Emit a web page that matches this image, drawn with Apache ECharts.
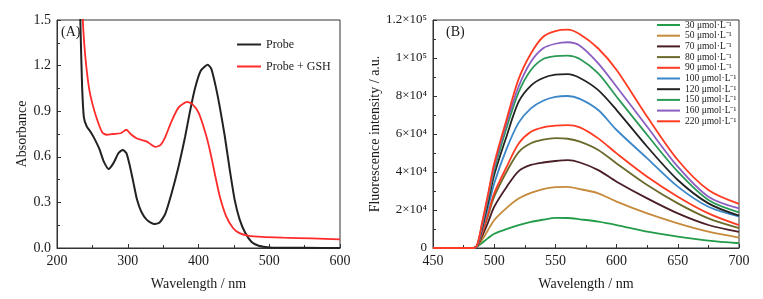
<!DOCTYPE html>
<html>
<head>
<meta charset="utf-8">
<script src="https://cdn.jsdelivr.net/npm/echarts@6/dist/echarts.min.js"></script>
<style>
  html, body { margin: 0; padding: 0; background: #fff; }
  #chart { width: 763px; height: 299px; }
</style>
</head>
<body>
<div id="chart"></div>
<script>
// (A) absorbance, [wavelength nm, absorbance]
const probe = [
  [232, 1.7], [233.5, 1.4], [235.5, 1.06], [238, 0.86], [242, 0.8], [248, 0.76], [254, 0.71],
  [260, 0.65], [266, 0.57], [273, 0.52], [280, 0.56], [287, 0.625], [293, 0.645], [298, 0.625],
  [303, 0.54], [308, 0.43], [313, 0.32], [319, 0.24], [327, 0.185], [337, 0.158], [345, 0.168],
  [353, 0.225], [362, 0.36], [372, 0.54], [381, 0.73], [388, 0.9], [395, 1.05], [403, 1.165],
  [413, 1.205], [418, 1.18], [424, 1.07], [430, 0.93], [437, 0.74], [444, 0.52], [451, 0.32],
  [458, 0.19], [466, 0.1], [475, 0.04], [485, 0.015], [495, 0.006], [505, 0.002], [550, 0.001], [600, 0.0]
]
const probeGSH = [
  [235.5, 1.65], [237, 1.45], [240, 1.26], [245, 1.06], [250, 0.95], [257, 0.84], [264, 0.76],
  [270, 0.745], [280, 0.75], [290, 0.755], [298, 0.778], [304, 0.75], [313, 0.72], [320, 0.71],
  [327, 0.7], [332, 0.684], [339, 0.665], [346, 0.677], [353, 0.73], [362, 0.835], [372, 0.925],
  [384, 0.962], [391, 0.948], [400, 0.89], [409, 0.77], [416, 0.645], [423, 0.49], [430, 0.34],
  [439, 0.21], [449, 0.13], [458, 0.098], [470, 0.082], [490, 0.073], [520, 0.068], [560, 0.063], [600, 0.057]
]

// (B) fluorescence
const wl = [450, 483, 486, 490, 495, 500, 510, 520, 530, 540, 550, 560, 570, 585, 600, 625, 650, 675, 700]
const concNames = ['30 μmol·L⁻¹', '50 μmol·L⁻¹', '70 μmol·L⁻¹', '80 μmol·L⁻¹', '90 μmol·L⁻¹',
  '100 μmol·L⁻¹', '120 μmol·L⁻¹', '150 μmol·L⁻¹', '160 μmol·L⁻¹', '220 μmol·L⁻¹']
const c30 = [0, 0, 700, 2600, 5200, 7500, 9900, 12000, 13700, 14900, 15900, 15800, 15100, 13900, 12100, 8600, 6000, 3900, 2500]
const c50 = [0, 0, 900, 4200, 9500, 14700, 21000, 26000, 29000, 31000, 32000, 32200, 31000, 28800, 24400, 18200, 13000, 8600, 5500]
const c70 = [0, 0, 1000, 6000, 13500, 21700, 32000, 40500, 43700, 45000, 45800, 46200, 45000, 41000, 34900, 26100, 18200, 12100, 8500]
const c80 = [0, 0, 1100, 7400, 17000, 27000, 40000, 50500, 55100, 57000, 57800, 57500, 56000, 51600, 44500, 33100, 23500, 15600, 10500]
const c90 = [0, 0, 1100, 7700, 18000, 28800, 42500, 55000, 61200, 63500, 64400, 64700, 63500, 57700, 49800, 37500, 27000, 18200, 12000]
const c100 = [0, 0, 1200, 9500, 21500, 34000, 52000, 66000, 73500, 77500, 79500, 80000, 78500, 72600, 62100, 47200, 32300, 21700, 16600]
const c120 = [0, 0, 1200, 10300, 24000, 38400, 58600, 77000, 85500, 89500, 91200, 91500, 89500, 83100, 72600, 53300, 35800, 23500, 17000]
const c150 = [0, 0, 1300, 11200, 26000, 41000, 63000, 82000, 93700, 99500, 101000, 101300, 99500, 91900, 79600, 59500, 40200, 25300, 18800]
const c160 = [0, 0, 1300, 12100, 27500, 42800, 65600, 85000, 98000, 105100, 107500, 108300, 106500, 97200, 84900, 63800, 42800, 27000, 20800]
const c220 = [0, 0, 1400, 13000, 28500, 44500, 67400, 89000, 102400, 111200, 114200, 114900, 112500, 105000, 93700, 69100, 46300, 30500, 23200]
const concValues = [c30, c50, c70, c80, c90, c100, c120, c150, c160, c220]
const concColors = ['#239c4a', '#c68a3c', '#4a1e26', '#6b6a2c', '#ff3b22', '#3b87c9', '#222222', '#2b9a57', '#8b5ec2', '#ff3b22']

const font = 'Liberation Serif'
const ink = '#1a1a1a'
const sup = { '0': '⁰', '1': '¹', '2': '²', '3': '³', '4': '⁴', '5': '⁵' }

function sci(v) {
  if (v === 0) return '0'
  const e = Math.floor(Math.log10(v) + 1e-9)
  const m = +(v / Math.pow(10, e)).toFixed(1)
  return m + '×10' + String(e).split('').map(d => sup[d]).join('')
}

function axisCommon() {
  return {
    axisLine: { show: true, onZero: false, lineStyle: { color: '#333', width: 1 } },
    axisTick: { show: true, inside: true, length: 4, lineStyle: { color: '#333' } },
    minorTick: { show: true, splitNumber: 2, length: 3, lineStyle: { color: '#333' } },
    splitLine: { show: false },
    axisLabel: { color: ink, fontFamily: font, fontSize: 14, margin: 6 },
    nameTextStyle: { color: ink, fontFamily: font, fontSize: 14 }
  }
}

const chart = echarts.init(document.getElementById('chart'))

const series = [
  {
    name: 'Probe', type: 'line', xAxisIndex: 0, yAxisIndex: 0, data: probe,
    smooth: 0.2, symbol: 'none', lineStyle: { color: '#222', width: 2 }, itemStyle: { color: '#222' }
  },
  {
    name: 'Probe + GSH', type: 'line', xAxisIndex: 0, yAxisIndex: 0, data: probeGSH,
    smooth: 0.2, symbol: 'none', lineStyle: { color: '#ff2a2a', width: 1.8 }, itemStyle: { color: '#ff2a2a' }
  }
]
concNames.forEach((n, i) => {
  series.push({
    name: n, type: 'line', xAxisIndex: 1, yAxisIndex: 1,
    data: wl.map((x, j) => [x, concValues[i][j]]),
    smooth: 0.3, symbol: 'none',
    lineStyle: { color: concColors[i], width: 1.8 }, itemStyle: { color: concColors[i] }
  })
})

const option = {
  animation: false,
  backgroundColor: '#fff',
  grid: [
    { left: 57, top: 20, width: 283, height: 228, show: true, borderColor: '#333', borderWidth: 1, backgroundColor: 'transparent' },
    { left: 433, top: 20, width: 306, height: 228, show: true, borderColor: '#333', borderWidth: 1, backgroundColor: 'transparent' }
  ],
  xAxis: [
    Object.assign(axisCommon(), {
      type: 'value', gridIndex: 0, min: 200, max: 600, interval: 100,
      name: 'Wavelength / nm', nameLocation: 'middle', nameGap: 29
    }),
    Object.assign(axisCommon(), {
      type: 'value', gridIndex: 1, min: 450, max: 700, interval: 50,
      name: 'Wavelength / nm', nameLocation: 'middle', nameGap: 29
    })
  ],
  yAxis: [
    Object.assign(axisCommon(), {
      type: 'value', gridIndex: 0, min: 0, max: 1.5, interval: 0.3,
      name: 'Absorbance', nameLocation: 'middle', nameGap: 27,
      axisLabel: { color: ink, fontFamily: font, fontSize: 14, margin: 6, formatter: v => v.toFixed(1) }
    }),
    Object.assign(axisCommon(), {
      type: 'value', gridIndex: 1, min: 0, max: 120000, interval: 20000,
      name: 'Fluorescence intensity / a.u.', nameLocation: 'middle', nameGap: 51,
      axisLabel: { color: ink, fontFamily: font, fontSize: 13, margin: 6, formatter: sci }
    })
  ],
  legend: [
    {
      data: ['Probe', 'Probe + GSH'], orient: 'vertical', left: 237, top: 38, padding: 0,
      icon: 'rect', itemWidth: 24, itemHeight: 2, itemGap: 9,
      textStyle: { color: ink, fontFamily: font, fontSize: 12, lineHeight: 13 }
    },
    {
      data: concNames, orient: 'vertical', left: 657, top: 20,
      icon: 'rect', itemWidth: 23, itemHeight: 2, itemGap: 0.7, padding: 0,
      textStyle: { color: ink, fontFamily: font, fontSize: 9.5, lineHeight: 10 }
    }
  ],
  graphic: [
    { type: 'text', left: 61, top: 25, style: { text: '(A)', font: '14px "Liberation Serif"', fill: ink } },
    { type: 'text', left: 446, top: 25, style: { text: '(B)', font: '14px "Liberation Serif"', fill: ink } }
  ],
  series: series
}

chart.setOption(option)
</script>
</body>
</html>
